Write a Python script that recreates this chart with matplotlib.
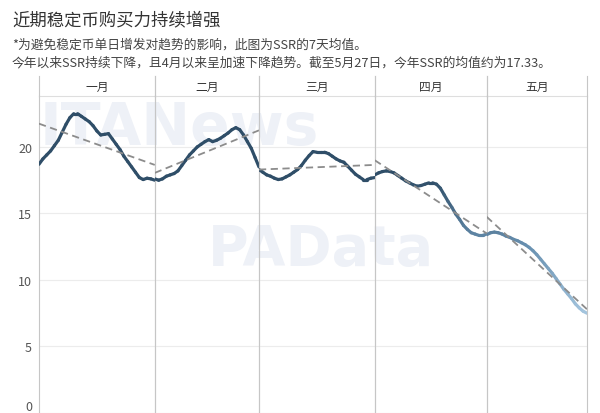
import numpy as np
import matplotlib.pyplot as plt
from matplotlib.collections import LineCollection
from matplotlib.colors import LinearSegmentedColormap

plt.rcParams["font.family"] = ["Noto Sans CJK SC", "DejaVu Sans"]

months = ["一月", "二月", "三月", "四月", "五月"]

# SSR 7天均值
ssr_jan = [18.7, 19.1, 19.4, 19.7, 20.1, 20.5, 21.1, 21.7, 22.2, 22.5, 22.5,
           22.3, 22.1, 21.9, 21.6, 21.2, 20.9, 20.95, 21.0, 20.6, 20.2, 19.8,
           19.3, 18.9, 18.5, 18.1, 17.7, 17.55, 17.65, 17.6, 17.5]
ssr_feb = [17.6, 17.5, 17.6, 17.8, 17.9, 18.0, 18.2, 18.6, 19.0, 19.4, 19.7,
           20.0, 20.2, 20.4, 20.55, 20.4, 20.5, 20.65, 20.85, 21.05, 21.3,
           21.45, 21.3, 20.9, 20.4, 19.9, 19.2, 18.5]
ssr_mar = [18.3, 18.1, 17.9, 17.8, 17.65, 17.55, 17.6, 17.75, 17.9, 18.1, 18.3,
           18.6, 19.0, 19.35, 19.65, 19.6, 19.6, 19.6, 19.5, 19.3, 19.1, 18.95,
           18.85, 18.55, 18.25, 17.95, 17.75, 17.55, 17.55, 17.65, 17.7]
ssr_apr = [17.9, 18.05, 18.15, 18.2, 18.15, 18.05, 17.85, 17.65, 17.45, 17.3,
           17.15, 17.05, 17.1, 17.2, 17.3, 17.3, 17.2, 16.9, 16.4, 15.9, 15.45,
           14.95, 14.55, 14.1, 13.8, 13.55, 13.45, 13.35, 13.35, 13.45]
ssr_may = [13.4, 13.55, 13.6, 13.55, 13.45, 13.3, 13.2, 13.05, 12.95, 12.8,
           12.65, 12.45, 12.2, 11.9, 11.55, 11.2, 10.85, 10.5, 10.1, 9.7, 9.3,
           8.95, 8.6, 8.2, 7.9, 7.65, 7.5]

# monthly trend lines (value at first and last day)
trend_start = [21.75, 18.05, 18.3, 19.0, 14.75]
trend_end = [18.65, 21.25, 18.65, 13.5, 7.8]

series = [ssr_jan, ssr_feb, ssr_mar, ssr_apr, ssr_may]

title = "近期稳定币购买力持续增强"
note1 = "*为避免稳定币单日增发对趋势的影响，此图为SSR的7天均值。"
note2 = "今年以来SSR持续下降，且4月以来呈加速下降趋势。截至5月27日，今年SSR的均值约为17.33。"

cmap = LinearSegmentedColormap.from_list("ssr", ["#a3c4dd", "#6890b0", "#2f4e68"])
norm = plt.Normalize(7.5, 17.5)
sep_color = "#c6c6c6"


def main():
    fig = plt.figure(figsize=(6, 4.14), dpi=100)

    fig.text(12 / 600, 1 - 20 / 414, title, fontsize=12.5, color="#333333", va="center")
    fig.text(12 / 600, 1 - 45 / 414, note1, fontsize=9.2, color="#444444", va="center")
    fig.text(12 / 600, 1 - 63 / 414, note2, fontsize=9.2, color="#444444", va="center")

    # faint watermarks
    fig.text(40 / 600, 1 - 128 / 414, "ITANews", fontsize=42, fontweight="bold",
             color="#eef1f7", va="center", family="DejaVu Sans", zorder=-1)
    fig.text(208 / 600, 1 - 250 / 414, "PAData", fontsize=40, fontweight="bold",
             color="#eef1f7", va="center", family="DejaVu Sans", zorder=-1)

    gs = fig.add_gridspec(2, 5, left=39 / 600, right=587 / 600, bottom=0,
                          top=1 - 77 / 414, height_ratios=[20, 317],
                          width_ratios=[len(s) - 1 for s in series],
                          wspace=0, hspace=0)

    for i, vals in enumerate(series):
        n = len(vals)
        days = np.arange(1, n + 1)

        hax = fig.add_subplot(gs[0, i])
        hax.set_facecolor("none")
        hax.set_xticks([])
        hax.set_yticks([])
        hax.text(0.5, 0.5, months[i], ha="center", va="center", fontsize=8.5,
                 color="#333333", transform=hax.transAxes)
        hax.spines["top"].set_visible(False)
        hax.spines["bottom"].set_color("#dedede")
        for side in ("left", "right"):
            hax.spines[side].set_color(sep_color)
            hax.spines[side].set_linewidth(0.8)

        ax = fig.add_subplot(gs[1, i])
        ax.set_facecolor("none")

        pts = np.column_stack([days, vals]).reshape(-1, 1, 2)
        segs = np.concatenate([pts[:-1], pts[1:]], axis=1)
        lc = LineCollection(segs, cmap=cmap, norm=norm, linewidth=2.3,
                            capstyle="round", zorder=3)
        lc.set_array((np.array(vals[:-1]) + np.array(vals[1:])) / 2)
        ax.add_collection(lc)

        ax.plot([1, n], [trend_start[i], trend_end[i]], color="#8c8c8c",
                linewidth=1.3, dashes=(4, 2.5), zorder=4)

        ax.set_xlim(1, n)
        ax.set_ylim(0, 23.83)
        ax.set_xticks([])
        ax.set_yticks([0, 5, 10, 15, 20])
        ax.grid(axis="y", color="#ececec", linewidth=0.8)
        ax.set_axisbelow(True)
        ax.tick_params(length=0, labelsize=9, labelcolor="#555555", pad=5)
        if i > 0:
            ax.tick_params(labelleft=False)
        ax.spines["top"].set_visible(False)
        ax.spines["bottom"].set_visible(False)
        for side in ("left", "right"):
            ax.spines[side].set_color(sep_color)
            ax.spines[side].set_linewidth(0.8)

        if i == 0:
            ax.yaxis.get_major_ticks()[0].label1.set_verticalalignment("bottom")

    plt.savefig("out.png", dpi=100)


if __name__ == "__main__":
    main()
